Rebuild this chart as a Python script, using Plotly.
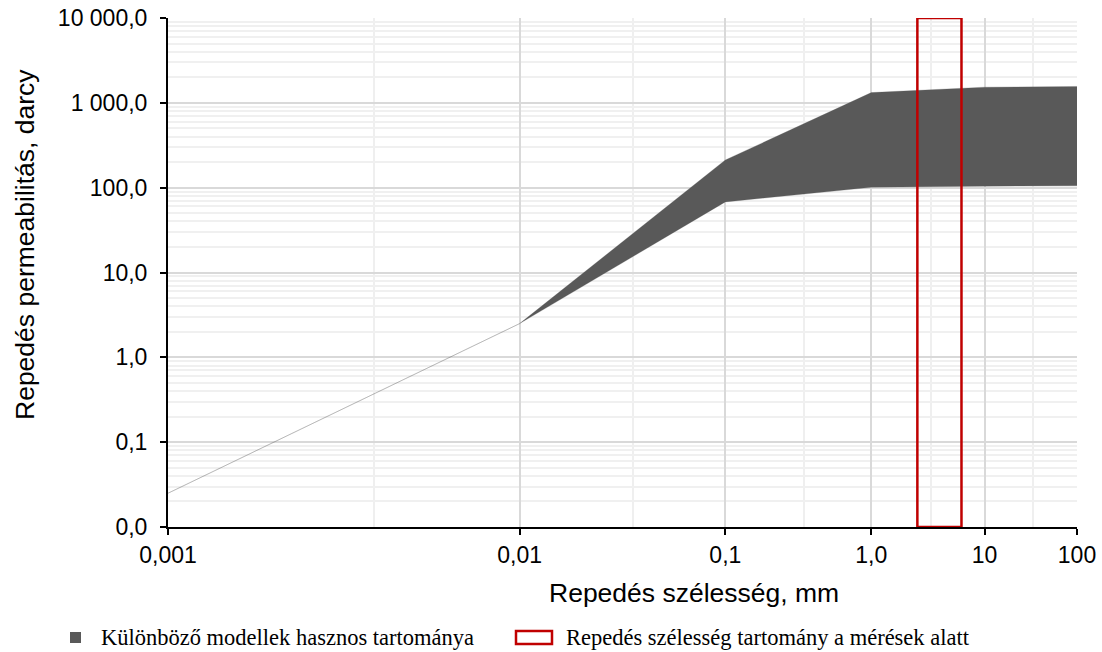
import math
import plotly.graph_objects as go

# Fracture width (mm) at the model break points and the permeability envelope (darcy)
width_mm = [0.001, 0.01, 0.1, 1.0, 10.0, 100.0]
perm_upper = [0.025, 2.5, 212, 1320, 1530, 1560]
perm_lower = [0.025, 2.5, 68, 101, 104, 105]

# Fracture width range observed during the measurements (mm)
meas_width_mm = [2.4, 6.0]
perm_axis_limits = [0.01, 10000]

x_tick_labels = ["0,001", "0,01", "0,1", "1,0", "10", "100"]
y_tick_values = [0.01, 0.1, 1, 10, 100, 1000, 10000]
y_tick_labels = ["0,0", "0,1", "1,0", "10,0", "100,0", "1 000,0", "10 000,0"]

name_band = "Különböző modellek hasznos tartománya"
name_box = "Repedés szélesség tartomány a mérések alatt"

BAND = "#595959"
BAND_EDGE = "rgba(89,89,89,0.35)"
RED = "#c00000"


# The width axis is drawn on a log scale of (log10(w) + 4): 0,001 mm -> 1, 100 mm -> 6
def wpos(w):
    return math.log10(w) + 4


x_band = [wpos(w) for w in width_mm]
x_major = [wpos(w) for w in width_mm]
x_minor = [v + 0.5 for v in x_major[:-1]]
y_minor = [m * 10 ** e for e in range(-2, 4) for m in range(2, 10)]

fig = go.Figure()

# Upper envelope
fig.add_trace(go.Scatter(
    x=x_band, y=perm_upper, mode="lines",
    line=dict(color=BAND_EDGE, width=0.7), name=name_band, showlegend=False,
    hoverinfo="skip",
))
# Lower envelope, filled up to the upper one
fig.add_trace(go.Scatter(
    x=x_band, y=perm_lower, mode="lines", fill="tonexty",
    fillcolor=BAND, line=dict(color=BAND_EDGE, width=0.7),
    name=name_band, showlegend=False, hoverinfo="skip",
))

# Measured width range, full height of the value axis
x0, x1 = wpos(meas_width_mm[0]), wpos(meas_width_mm[1])
y0, y1 = perm_axis_limits
fig.add_trace(go.Scatter(
    x=[x0, x0, x1, x1, x0], y=[y0, y1, y1, y0, y0], mode="lines",
    line=dict(color=RED, width=2.5), name=name_box, showlegend=False,
    hoverinfo="skip",
))

tick_font = dict(family="Liberation Sans, Arial, sans-serif", size=23, color="#000000")
title_font = dict(family="Liberation Sans, Arial, sans-serif", size=26.5, color="#000000")
legend_font = dict(family="Liberation Serif, Times New Roman, serif", size=22.5, color="#000000")

fig.update_xaxes(
    type="log", range=[0, math.log10(6)], automargin=False,
    tickmode="array", tickvals=x_major, ticktext=x_tick_labels,
    showgrid=True, gridcolor="#d9d9d9", gridwidth=2,
    minor=dict(tickmode="array", tickvals=x_minor, showgrid=True,
               gridcolor="#efefef", gridwidth=2, ticks=""),
    showline=True, linecolor="#000000", linewidth=2,
    ticks="outside", ticklen=6, tickwidth=2, tickcolor="#000000",
    tickfont=tick_font, zeroline=False, ticklabelstandoff=0,
)
fig.update_yaxes(
    type="log", range=[math.log10(perm_axis_limits[0]), math.log10(perm_axis_limits[1])],
    automargin=False,
    tickmode="array", tickvals=y_tick_values, ticktext=y_tick_labels,
    showgrid=True, gridcolor="#d9d9d9", gridwidth=2,
    minor=dict(tickmode="array", tickvals=y_minor, showgrid=True,
               gridcolor="#f0f0f0", gridwidth=2, ticks=""),
    showline=True, linecolor="#000000", linewidth=2,
    ticks="outside", ticklen=6, tickwidth=2, tickcolor="#000000",
    tickfont=tick_font, zeroline=False, ticklabelstandoff=8,
)

L, R, T, B = 168, 25, 18, 125
W, H = 1102, 652
pw, ph = W - L - R, H - T - B


def px(x):
    return (x - L) / pw


def py(y):
    return (H - B - y) / ph


annotations = [
    dict(text="Repedés szélesség, mm", xref="paper", yref="paper",
         x=px(694), y=py(593), xanchor="center", yanchor="middle",
         showarrow=False, font=title_font),
    dict(text="Repedés permeabilitás, darcy", xref="paper", yref="paper",
         x=px(25), y=py(245), xanchor="center", yanchor="middle",
         textangle=-90, showarrow=False, font=title_font),
    dict(text=name_band, xref="paper", yref="paper",
         x=px(99), y=py(637), xanchor="left", yanchor="middle",
         showarrow=False, font=legend_font),
    dict(text=name_box, xref="paper", yref="paper",
         x=px(564), y=py(637), xanchor="left", yanchor="middle",
         showarrow=False, font=legend_font),
]

shapes = [
    # legend key: model band
    dict(type="rect", xref="paper", yref="paper",
         x0=px(70), x1=px(81), y0=py(643), y1=py(632),
         fillcolor=BAND, line=dict(width=0)),
    # legend key: measured range
    dict(type="rect", xref="paper", yref="paper",
         x0=px(516), x1=px(552), y0=py(644), y1=py(631),
         fillcolor="rgba(0,0,0,0)", line=dict(color=RED, width=2.5)),
]

fig.update_layout(
    width=W, height=H,
    margin=dict(l=L, r=R, t=T, b=B),
    paper_bgcolor="#ffffff", plot_bgcolor="#ffffff",
    showlegend=False,
    annotations=annotations, shapes=shapes,
)

fig.write_html("out.html")
